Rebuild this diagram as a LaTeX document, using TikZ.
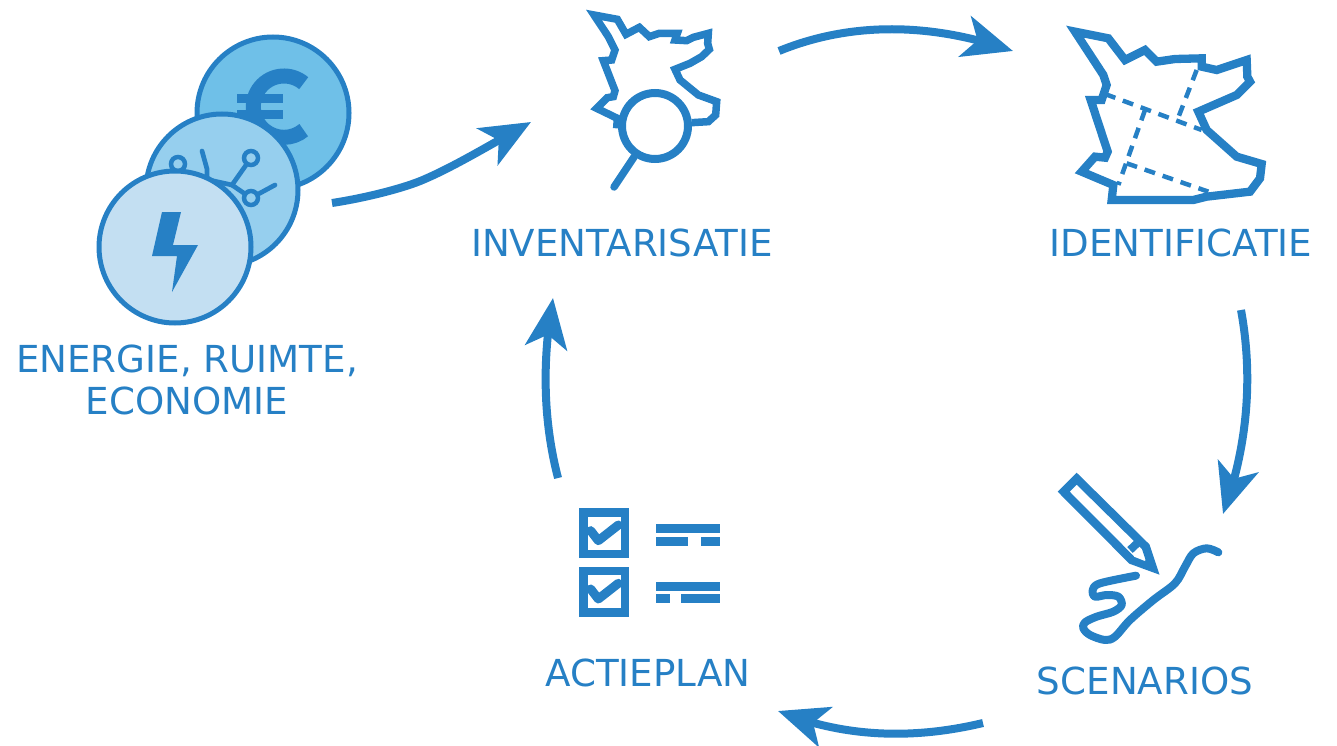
\documentclass[tikz,border=0pt]{standalone}
\usepackage{fontspec}
\setmainfont{DejaVu Sans}
\usetikzlibrary{arrows.meta,bending}
\definecolor{bl}{HTML}{2680C5}
\definecolor{coinA}{HTML}{6FC0E8}
\definecolor{coinB}{HTML}{96CFEE}
\definecolor{coinC}{HTML}{C3DFF2}
\tikzset{
  lbl/.style={text=bl,font=\fontsize{37.2}{42}\selectfont,inner sep=0pt,align=center},
  coin/.style={draw=bl,line width=5pt,circle,minimum size=152pt,inner sep=0pt},
  flow/.style={draw=bl,line width=8pt,-{Stealth[length=50pt,width=42pt,inset=13pt,flex=1]}},
  outline/.style={draw=bl,line width=7.5pt,miter limit=10,line join=miter},
  dashln/.style={draw=bl,line width=4.5pt,dash pattern=on 11pt off 8pt},
  rnd/.style={draw=bl,line cap=round,line join=round},
  netnode/.style={draw=bl,circle,line width=4.5pt,minimum size=14pt,inner sep=0pt},
  zoomed/.style={scale=0.33333}
}
\begin{document}
\begin{tikzpicture}[x=1pt,y=-1pt]
\useasboundingbox (0,0) rectangle (1337,746);
% coins
\node[coin,fill=coinA] (coinE) at (273,113) {};
\begin{scope}[shift={(80,20)},zoomed]
  \fill[bl] (471,222) rectangle (610,250);
  \fill[bl] (471,270) rectangle (610,298);
  \draw[bl,line width=15pt] (612,260) ++(-50:92) arc[start angle=-50,end angle=-310,radius=92];
\end{scope}
\node[coin,fill=coinB] (coinN) at (222,190) {};
\node[netnode] (n1) at (178,164) {};
\node[netnode] (n2) at (251,158) {};
\node[netnode] (n3) at (251,198) {};
\coordinate (j) at (232,185);
\coordinate (e1) at (275,185);
\coordinate (e2) at (202,151);
\coordinate (e3) at (207,169);
\coordinate (e4) at (207,178);
\coordinate (e5) at (200,178);
\draw[rnd,line width=4.7pt] (j) -- (n2);
\draw[rnd,line width=4.7pt] (j) -- (n3);
\draw[rnd,line width=4.7pt] (n3) -- (e1);
\draw[rnd,line width=4.7pt] (e2) -- (e3) -- (e4);
\draw[rnd,line width=4.7pt] (j) -- (e5);
\node[coin,fill=coinC] (coinB) at (175,247) {};
\fill[bl] (162,212) -- (181,212) -- (173,245) -- (198,245) -- (172,292) -- (177,256) -- (152,256) -- cycle;
% inventarisatie icon
\begin{scope}[shift={(570,0)},zoomed]
  \draw[outline] (365,368) -- (415,365) -- (437,345) -- (440,305) -- (385,285) -- (330,240) -- (315,208) -- (360,190) -- (395,170) -- (418,148) -- (413,130) -- (415,100) -- (370,112) -- (350,122) -- (315,120) -- (322,100) -- (268,100) -- (238,110) -- (208,82) -- (168,103) -- (142,58) -- (72,45) -- (115,110) -- (135,150) -- (125,180) -- (100,182) -- (135,272) -- (130,290) -- (112,293) -- (80,325) -- (142,355) -- (140,385);
\end{scope}
\node[draw=bl,circle,line width=8pt,minimum size=66pt,inner sep=0pt,fill=white] (lens) at (655,126) {};
\coordinate (hdl) at (614,187);
\draw[rnd,line width=7.5pt] (lens) ++(-21,31) -- (hdl);
% identificatie icon
\begin{scope}[shift={(1060,15)},zoomed]
  \draw[outline,line width=8.3pt] (45,50) -- (145,70) -- (195,135) -- (255,105) -- (290,140) -- (345,132) -- (425,130) -- (425,155) -- (470,165) -- (560,135) -- (562,185) -- (570,200) -- (530,240) -- (415,290) -- (440,345) -- (530,425) -- (605,447) -- (600,490) -- (570,530) -- (440,545) -- (400,555) -- (155,555) -- (160,510) -- (65,470) -- (105,425) -- (135,428) -- (143,410) -- (92,255) -- (125,255) -- (140,210) -- (130,180) -- cycle;
  \draw[dashln] (135,237) -- (425,345);
  \draw[dashln] (410,165) -- (350,320);
  \draw[dashln] (255,285) -- (175,510);
  \draw[dashln] (200,445) -- (445,530);
\end{scope}
% scenarios icon
\begin{scope}[shift={(1050,465)},zoomed]
  \draw[draw=bl,line width=8.5pt,miter limit=10] (41,80) -- (80,41) -- (287,245) -- (308,308) -- (245,285) -- cycle;
  \draw[draw=bl,line width=8pt] (240,255) -- (272,225);
  \fill[bl] (325,325) -- (296,300) -- (285,280) -- (298,240) -- cycle;
  \fill[white] (252,275) -- (270,256) -- (285,288) -- cycle;
  \draw[rnd,line width=8pt] plot[smooth,tension=0.55] coordinates {(505,262) (470,250) (430,265) (405,305) (375,355) (310,405) (240,465) (195,515) (165,525) (120,510) (100,490) (105,472) (140,455) (190,440) (215,420) (205,395) (170,390) (135,395) (128,375) (150,355) (258,332)};
\end{scope}
% actieplan icon
\begin{scope}[shift={(570,500)},zoomed]
  \draw[bl,line width=8.7pt] (40,38) rectangle (165,162);
  \draw[bl,line width=8.7pt] (40,213) rectangle (165,337);
  \draw[rnd,line width=9pt] (62,92) -- (85,122) -- (145,75);
  \draw[rnd,line width=9pt] (62,267) -- (85,297) -- (145,250);
  \fill[bl] (259,73) rectangle (451,99);
  \fill[bl] (259,111) rectangle (355,137);
  \fill[bl] (394,111) rectangle (451,137);
  \fill[bl] (259,246) rectangle (451,272);
  \fill[bl] (259,282) rectangle (301,308);
  \fill[bl] (333,282) rectangle (451,308);
\end{scope}
% labels
\node[lbl] (lInv) at (622,243) {INVENTARISATIE};
\node[lbl] (lId) at (1181,243) {IDENTIFICATIE};
\node[lbl] (lEn) at (187,380) {ENERGIE, RUIMTE,\\ECONOMIE};
\node[lbl] (lAc) at (648,673) {ACTIEPLAN};
\node[lbl] (lSc) at (1145,681) {SCENARIOS};
% connectors
\coordinate (a1) at (332,203); \coordinate (a2) at (531,122);
\coordinate (b1) at (779,51);  \coordinate (b2) at (1013,51);
\coordinate (c1) at (1241,310); \coordinate (c2) at (1223,514);
\coordinate (d1) at (983,723); \coordinate (d2) at (778,711);
\coordinate (f1) at (558,478); \coordinate (f2) at (553,298);
\draw[flow] (a1) .. controls (365,198) and (405,188) .. (425,179) .. controls (455,166) and (490,145) .. (a2);
\draw[flow] (b1) .. controls (850,22) and (930,22) .. (b2);
\draw[flow] (c1) .. controls (1252,370) and (1250,440) .. (c2);
\draw[flow] (d1) .. controls (920,738) and (850,740) .. (d2);
\draw[flow] (f1) .. controls (543,420) and (542,360) .. (f2);
\end{tikzpicture}
\end{document}
